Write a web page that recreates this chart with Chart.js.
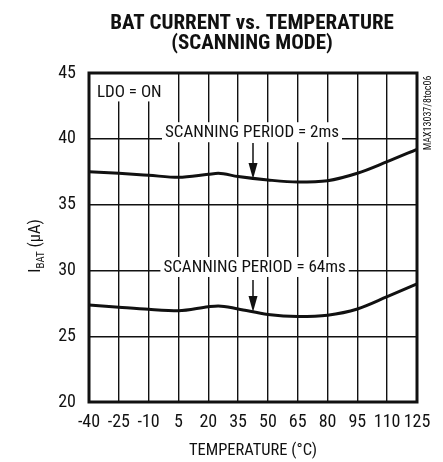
<!DOCTYPE html>
<html>
<head>
<meta charset="utf-8">
<script src="https://cdn.jsdelivr.net/npm/chart.js@4"></script>
<style>
  html, body { margin: 0; padding: 0; background: #fff; }
  canvas { display: block; }
</style>
</head>
<body>
<canvas id="batChart" width="443" height="462"></canvas>
<script>
// data
const temps = [-40, -25, -10, 5, 20, 25, 35, 50, 65, 80, 95, 110, 125];
const scan2ms = [37.5, 37.38, 37.23, 37.07, 37.3, 37.38, 37.13, 36.87, 36.72, 36.82, 37.38, 38.26, 39.2];
const scan64ms = [27.37, 27.2, 27.04, 26.94, 27.24, 27.3, 27.07, 26.65, 26.5, 26.6, 27.07, 28.0, 28.97];
const xTicks = [-40, -25, -10, 5, 20, 35, 50, 65, 80, 95, 110, 125];
const yTicks = [20, 25, 30, 35, 40, 45];

// curve labels with arrows (data units)
const curveLabels = ['SCANNING PERIOD = 2ms', 'SCANNING PERIOD = 64ms'];
const labelAt = [[42.0, 40.5], [43.3, 30.26]];
const arrowX = [42.5, 42.5];
const arrowFrom = [39.68, 29.27];
const arrowTo = [36.95, 26.84];

const FONT = '"Liberation Sans Narrow", "Roboto Condensed", "DejaVu Sans Condensed", sans-serif';

const toPts = (ys) => temps.map((t, i) => ({ x: t, y: ys[i] }));

const decor = {
  id: 'decor',
  beforeDatasetsDraw(chart) {
    const { ctx, chartArea: a, scales: { x, y } } = chart;
    ctx.save();
    ctx.fillStyle = '#fff';
    ctx.font = '17px ' + FONT;
    ctx.textAlign = 'center';
    ctx.textBaseline = 'middle';
    curveLabels.forEach((txt, i) => {
      const px = x.getPixelForValue(labelAt[i][0]);
      const py = y.getPixelForValue(labelAt[i][1]);
      const w = ctx.measureText(txt).width;
      ctx.fillStyle = '#fff';
      ctx.fillRect(px - w / 2 - 3, py - 10, w + 6, 20);
      ctx.fillStyle = '#111';
      ctx.fillText(txt, px, py + 1);
      // arrow
      const ax = x.getPixelForValue(arrowX[i]);
      const y0 = y.getPixelForValue(arrowFrom[i]);
      const y1 = y.getPixelForValue(arrowTo[i]);
      ctx.strokeStyle = '#111';
      ctx.lineWidth = 1.5;
      ctx.beginPath();
      ctx.moveTo(ax, y0);
      ctx.lineTo(ax, y1 - 10);
      ctx.stroke();
      ctx.beginPath();
      ctx.moveTo(ax - 4.5, y1 - 16);
      ctx.lineTo(ax + 4.5, y1 - 16);
      ctx.lineTo(ax, y1);
      ctx.closePath();
      ctx.fill();
    });
    // LDO = ON
    const lx = x.getPixelForValue(-36);
    const ly = y.getPixelForValue(43.6);
    ctx.font = '17px ' + FONT;
    ctx.textAlign = 'left';
    const lw = ctx.measureText('LDO = ON').width;
    ctx.fillStyle = '#fff';
    ctx.fillRect(a.left, a.top, lx - a.left + lw + 4, ly - a.top + 10);
    ctx.fillStyle = '#111';
    ctx.fillText('LDO = ON', lx, ly + 1);
    ctx.restore();
  },
  afterDatasetsDraw(chart) {
    const { ctx, chartArea: a } = chart;
    ctx.save();
    ctx.strokeStyle = '#111';
    ctx.lineWidth = 3;
    ctx.strokeRect(a.left, a.top, a.right - a.left, a.bottom - a.top);
    ctx.restore();
  },
  afterDraw(chart) {
    const { ctx, chartArea: a } = chart;
    const cx = (a.left + a.right) / 2 + 0;
    ctx.save();
    ctx.fillStyle = '#111';
    ctx.textAlign = 'center';
    ctx.textBaseline = 'middle';
    ctx.font = 'bold 21px ' + FONT;
    ctx.fillText('BAT CURRENT vs. TEMPERATURE', cx - 1, 24);
    ctx.fillText('(SCANNING MODE)', cx - 1, 44);

    ctx.font = '16.5px ' + FONT;
    ctx.fillText('TEMPERATURE (°C)', cx, 451);

    // y title with subscript
    ctx.save();
    ctx.translate(36, 246);
    ctx.rotate(-Math.PI / 2);
    ctx.textAlign = 'left';
    ctx.font = '16.5px ' + FONT;
    const wI = ctx.measureText('I').width;
    const wRest = ctx.measureText(' (μA)').width;
    ctx.font = '11px ' + FONT;
    const wSub = ctx.measureText('BAT').width;
    let sx = -(wI + wSub + wRest) / 2;
    ctx.font = '16.5px ' + FONT;
    ctx.fillText('I', sx, 0);
    sx += wI;
    ctx.font = '11px ' + FONT;
    ctx.fillText('BAT', sx, 5);
    sx += wSub;
    ctx.font = '16.5px ' + FONT;
    ctx.fillText(' (μA)', sx, 0);
    ctx.restore();

    // figure id
    ctx.save();
    ctx.translate(428, 113);
    ctx.rotate(-Math.PI / 2);
    ctx.font = '10px ' + FONT;
    ctx.fillText('MAX13037/8toc06', 0, 0);
    ctx.restore();
    ctx.restore();
  }
};

const lineStyle = {
  borderColor: '#111',
  borderWidth: 3,
  pointRadius: 0,
  fill: false,
  cubicInterpolationMode: 'monotone'
};

new Chart(document.getElementById('batChart'), {
  type: 'line',
  data: {
    datasets: [
      Object.assign({ label: '2ms', data: toPts(scan2ms) }, lineStyle),
      Object.assign({ label: '64ms', data: toPts(scan64ms) }, lineStyle)
    ]
  },
  options: {
    responsive: false,
    animation: false,
    layout: { padding: { left: 0, top: 73, right: 26, bottom: 0 } },
    plugins: { legend: { display: false }, tooltip: { enabled: false } },
    scales: {
      x: {
        type: 'linear',
        min: -40,
        max: 125,
        afterBuildTicks: (s) => { s.ticks = xTicks.map(v => ({ value: v })); },
        afterFit: (s) => { s.height = 60; },
        grid: { color: '#111', lineWidth: 1.4, drawTicks: false },
        border: { display: false },
        ticks: { color: '#111', font: { family: FONT, size: 18 }, padding: 10, maxRotation: 0, autoSkip: false }
      },
      y: {
        min: 20,
        max: 45,
        afterBuildTicks: (s) => { s.ticks = yTicks.map(v => ({ value: v })); },
        afterFit: (s) => { s.width = 89; },
        grid: { color: '#111', lineWidth: 1.4, drawTicks: false },
        border: { display: false },
        ticks: { color: '#111', font: { family: FONT, size: 18 }, padding: 13 }
      }
    }
  },
  plugins: [decor]
});
</script>
</body>
</html>
